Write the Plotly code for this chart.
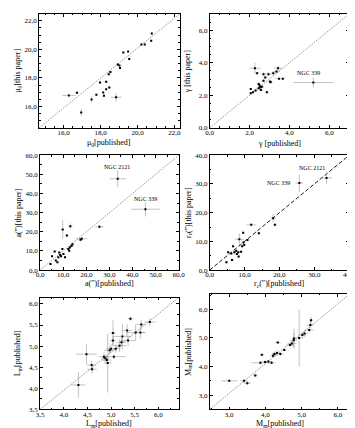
import plotly.graph_objects as go

W, H = 355, 428

# ---------------- data ----------------
# Panel 1: mu0
mu_pub = [16.28, 16.72, 16.95, 17.51, 17.77, 17.97, 18.18, 18.14, 18.30, 18.30, 18.47, 18.44, 18.53, 18.84, 18.93, 19.02, 19.05, 19.23, 19.55, 19.49, 20.21, 20.39, 20.74, 20.77]
mu_new = [16.77, 16.95, 15.57, 16.48, 16.82, 17.68, 16.75, 16.98, 17.20, 17.73, 17.32, 18.25, 18.41, 16.64, 18.93, 18.86, 18.70, 19.77, 19.32, 19.84, 20.34, 20.34, 20.61, 21.11]
mu_ex = [0.35, 0.1, 0.05, 0.05, 0.08, 0.08, 0.05, 0.05, 0.05, 0.08, 0.08, 0.08, 0.08, 0.3, 0.08, 0.05, 0.05, 0.05, 0.05, 0.05, 0.05, 0.05, 0.05, 0.05]
mu_ey = [0.05, 0.05, 0.25, 0.2, 0.08, 0.08, 0.1, 0.05, 0.05, 0.1, 0.08, 0.1, 0.08, 0.3, 0.08, 0.05, 0.08, 0.05, 0.1, 0.05, 0.05, 0.05, 0.05, 0.08]

# Panel 2: gamma
g_pub = [2.27, 2.38, 2.06, 2.06, 2.17, 2.30, 2.46, 2.54, 2.62, 2.57, 2.51, 2.87, 2.70, 2.79, 2.95, 3.03, 3.06, 3.19, 3.35, 3.43, 3.48, 3.67, 2.46, 2.70, 5.20]
g_new = [3.66, 3.36, 2.39, 2.13, 2.19, 2.29, 2.43, 2.49, 2.53, 2.33, 2.59, 2.19, 3.30, 3.10, 3.30, 2.84, 2.80, 3.36, 3.46, 3.66, 3.02, 3.02, 2.69, 2.89, 2.78]
g_ex = [0.28, 0.08, 0.05, 0.08, 0.08, 0.1, 0.15, 0.1, 0.1, 0.1, 0.1, 0.1, 0.1, 0.1, 0.15, 0.1, 0.1, 0.1, 0.15, 0.2, 0.2, 0.1, 0.1, 0.1, 1.0]
g_ey = [0.35, 0.05, 0.05, 0.05, 0.05, 0.05, 0.1, 0.1, 0.1, 0.05, 0.1, 0.05, 0.1, 0.1, 0.1, 0.05, 0.05, 0.1, 0.1, 0.15, 0.05, 0.05, 0.1, 0.1, 0.3]

# Panel 3: a(")
a_pub = [9.8, 13.1, 11.6, 25.7, 18.0, 17.5, 14.0, 13.6, 12.9, 12.2, 12.6, 9.65, 10.1, 8.3, 9.1, 6.3, 5.2, 7.9, 6.8, 7.5, 4.5, 8.7, 10.8, 33.6, 45.6]
a_new = [21.2, 22.9, 18.1, 22.6, 16.4, 15.9, 13.5, 12.6, 11.8, 11.0, 10.1, 11.0, 8.4, 9.2, 7.2, 9.7, 7.2, 6.7, 5.0, 4.1, 3.2, 7.9, 6.7, 47.7, 31.8]
a_ex = [0.6, 1.0, 0.6, 1.8, 2.5, 0.8, 0.8, 0.8, 0.6, 0.6, 0.6, 0.5, 0.5, 0.5, 0.5, 0.5, 0.5, 0.5, 0.5, 0.5, 0.5, 0.5, 0.5, 3.6, 6.2]
a_ey = [5.0, 1.5, 0.8, 0.8, 1.0, 0.8, 0.8, 0.6, 0.6, 0.6, 0.6, 0.5, 0.5, 0.5, 0.5, 0.5, 0.5, 0.5, 0.5, 0.5, 0.5, 0.5, 0.5, 4.4, 3.8]

# Panel 4: r_c(")
r_pub = [11.9, 14.1, 9.6, 8.5, 10.8, 9.7, 9.9, 9.3, 6.7, 7.6, 5.3, 7.1, 8.2, 9.0, 7.8, 6.2, 8.3, 6.4, 4.8, 18.7, 18.2, 25.7, 33.5]
r_new = [15.8, 12.8, 13.0, 10.7, 10.5, 9.6, 8.7, 8.3, 8.3, 6.7, 6.2, 6.2, 6.2, 6.4, 5.6, 5.8, 4.7, 3.5, 2.7, 15.8, 18.1, 30.3, 32.1]
r_ex = [1.3, 0.5, 0.4, 1.2, 0.6, 0.5, 0.4, 0.4, 0.4, 0.4, 0.4, 0.4, 0.4, 0.4, 0.4, 0.4, 0.5, 0.5, 0.5, 0.5, 0.8, 1.1, 1.6]
r_ey = [0.4, 0.4, 0.4, 2.0, 0.5, 0.4, 0.4, 0.4, 0.4, 0.4, 0.4, 0.4, 0.4, 0.4, 0.4, 0.4, 0.4, 0.4, 0.4, 0.4, 1.5, 3.0, 2.0]

# Panel 5: L
L_x = [4.31, 4.48, 4.59, 4.60, 4.85, 4.88, 4.91, 4.97, 5.00, 5.04, 5.04, 5.06, 5.10, 5.18, 5.22, 5.24, 5.36, 5.34, 5.41, 5.52, 5.62, 5.64, 5.82, 4.93]
L_y = [4.08, 4.81, 4.55, 4.45, 4.75, 4.71, 4.67, 4.90, 4.94, 5.31, 5.13, 4.75, 4.94, 5.01, 5.09, 5.23, 5.13, 5.37, 5.65, 5.32, 5.32, 5.51, 5.57, 4.60]
L_ex = [0.15, 0.22, 0.10, 0.10, 0.10, 0.08, 0.10, 0.12, 0.10, 0.06, 0.06, 0.25, 0.10, 0.15, 0.10, 0.20, 0.15, 0.10, 0.06, 0.20, 0.10, 0.10, 0.12, 0.08]
L_ey = [0.31, 0.25, 0.10, 0.10, 0.10, 0.08, 0.10, 0.10, 0.10, 0.30, 0.12, 0.05, 0.10, 0.15, 0.10, 0.30, 0.12, 0.15, 0.05, 0.20, 0.15, 0.12, 0.10, 0.70]

# Panel 6: M
M_x = [3.00, 3.41, 3.50, 3.72, 3.90, 3.86, 3.99, 4.08, 4.17, 4.21, 4.25, 4.32, 4.41, 4.34, 4.52, 4.68, 4.73, 4.78, 4.79, 4.93, 5.02, 5.08, 5.21, 5.24, 5.26]
M_y = [3.50, 3.50, 3.42, 3.69, 4.41, 4.13, 4.16, 4.18, 4.13, 4.38, 4.44, 4.47, 4.44, 4.84, 4.58, 4.75, 4.81, 4.92, 4.98, 5.00, 5.10, 5.16, 5.28, 5.45, 5.62]
M_ex = [0.22, 0.10, 0.10, 0.06, 0.06, 0.25, 0.12, 0.10, 0.10, 0.08, 0.08, 0.12, 0.10, 0.08, 0.06, 0.10, 0.12, 0.10, 0.06, 0.12, 0.10, 0.10, 0.12, 0.10, 0.06]
M_ey = [0.03, 0.05, 0.06, 0.06, 0.03, 0.05, 0.05, 0.05, 0.05, 0.08, 0.10, 0.12, 0.08, 0.03, 0.05, 0.05, 0.08, 0.25, 0.35, 1.0, 0.10, 0.12, 0.10, 0.12, 0.12]

# ------------- layout geometry -------------
def xdom(l, r):
    return [l / W, r / W]

def ydom(t, b):
    return [1 - b / H, 1 - t / H]

panels = [
    dict(x=mu_pub, y=mu_new, ex=mu_ex, ey=mu_ey, xd=xdom(28, 173), yd=ydom(2, 118),
         xr=[14.67, 22.28], yr=[14.5, 22.48], dt=2, mdt=0.5, off=16,
         xt="μ<sub>0</sub>[published]", yt="μ<sub>0</sub>[this paper]"),
    dict(x=g_pub, y=g_new, ex=g_ex, ey=g_ey, xd=xdom(204, 348), yd=ydom(2, 118),
         xr=[0, 7], yr=[0, 7], dt=2, mdt=0.5, off=16,
         xt="γ [published]", yt="γ [this paper]"),
    dict(x=a_pub, y=a_new, ex=a_ex, ey=a_ey, xd=xdom(29, 172), yd=ydom(146, 263),
         xr=[0, 60], yr=[0, 60], dt=10, mdt=5, off=14,
         xt="a(″)[published]", yt="a(″)[this paper]"),
    dict(x=r_pub, y=r_new, ex=r_ex, ey=r_ey, xd=xdom(204, 348), yd=ydom(146, 263),
         xr=[0, 40], yr=[0, 40], dt=10, mdt=5, off=14,
         xt="r<sub>c</sub>(″)[published]", yt="r<sub>c</sub>(″)[this paper]"),
    dict(x=L_x, y=L_y, ex=L_ex, ey=L_ey, xd=xdom(29, 172), yd=ydom(291, 405),
         xr=[3.5, 6.43], yr=[3.5, 6.15], dt=0.5, mdt=0.25, off=15,
         xt="L<sub>m</sub>[published]", yt="L<sub>m</sub>[published]"),
    dict(x=M_x, y=M_y, ex=M_ex, ey=M_ey, xd=xdom(204, 349), yd=ydom(287, 405),
         xr=[2.46, 6.34], yr=[2.5, 6.55], dt=1, mdt=0.5, off=15,
         xt="M<sub>m</sub>[published]", yt="M<sub>m</sub>[published]"),
]

SERIF = "Liberation Serif"
fig = go.Figure()
annotations = []
shapes = []

for i, p in enumerate(panels, start=1):
    xa = "x" if i == 1 else f"x{i}"
    ya = "y" if i == 1 else f"y{i}"
    fig.add_trace(go.Scatter(
        x=p["x"], y=p["y"], mode="markers", xaxis=xa, yaxis=ya,
        marker=dict(color="black", size=2, symbol="square"),
        error_x=dict(type="data", array=p["ex"], color="#9a9a9a", thickness=0.6, width=0),
        error_y=dict(type="data", array=p["ey"], color="#9a9a9a", thickness=0.6, width=0),
        showlegend=False, hoverinfo="skip"))
    common = dict(showline=True, linecolor="black", linewidth=0.8, mirror="ticks",
                  ticks="inside", ticklen=3, tickwidth=0.6, tickcolor="black",
                  showgrid=False, zeroline=False, tickformat=".1f",
                  tickfont=dict(family=SERIF, size=7, color="black"),
                  minor=dict(ticks="inside", ticklen=1.6, tickwidth=0.5, tickcolor="black",
                             dtick=p["mdt"], showgrid=False))
    xkey = "xaxis" if i == 1 else f"xaxis{i}"
    ykey = "yaxis" if i == 1 else f"yaxis{i}"
    fig.update_layout(**{
        xkey: dict(domain=p["xd"], range=p["xr"], anchor=ya, dtick=p["dt"], tick0=0,
                   ticklabelstandoff=-2, **common),
        ykey: dict(domain=p["yd"], range=p["yr"], anchor=xa, dtick=p["dt"], tick0=0, **common),
    })
    if i == 4:
        ln = dict(color="black", width=0.9, dash="4px,2.2px")
    else:
        ln = dict(color="#555555", width=0.6, dash="1.6px,1.2px")
    shapes.append(dict(type="line", xref=f"{xa} domain", yref=f"{ya} domain",
                       x0=0, y0=0, x1=1, y1=1, line=ln, layer="below"))
    xc = (p["xd"][0] + p["xd"][1]) / 2
    yb = p["yd"][0]
    annotations.append(dict(text=p["xt"], xref="paper", yref="paper", x=xc, y=yb - p["off"] / H,
                            xanchor="center", yanchor="middle", showarrow=False,
                            font=dict(family=SERIF, size=8, color="black")))
    yc = (p["yd"][0] + p["yd"][1]) / 2
    xl = p["xd"][0] - 22 / W
    annotations.append(dict(text=p["yt"], xref="paper", yref="paper", x=xl, y=yc,
                            xanchor="center", yanchor="middle", textangle=-90, showarrow=False,
                            font=dict(family=SERIF, size=8, color="black")))

labels = [
    ("x2", "y2", 4.98, 3.34, "NGC 339"),
    ("x3", "y3", 33.3, 53.7, "NGC 2121"),
    ("x3", "y3", 45.6, 36.9, "NGC 339"),
    ("x4", "y4", 29.4, 35.6, "NGC 2121"),
    ("x4", "y4", 19.7, 30.3, "NGC 339"),
]
for xa, ya, lx, ly, t in labels:
    annotations.append(dict(text=t, xref=xa, yref=ya, x=lx, y=ly, showarrow=False,
                            xanchor="center", yanchor="middle",
                            font=dict(family=SERIF, size=6, color="black")))

fig.update_layout(width=W, height=H, margin=dict(l=0, r=0, t=0, b=0),
                  paper_bgcolor="white", plot_bgcolor="white",
                  separators=",.", annotations=annotations, shapes=shapes,
                  showlegend=False)

fig.write_html("out.html")
